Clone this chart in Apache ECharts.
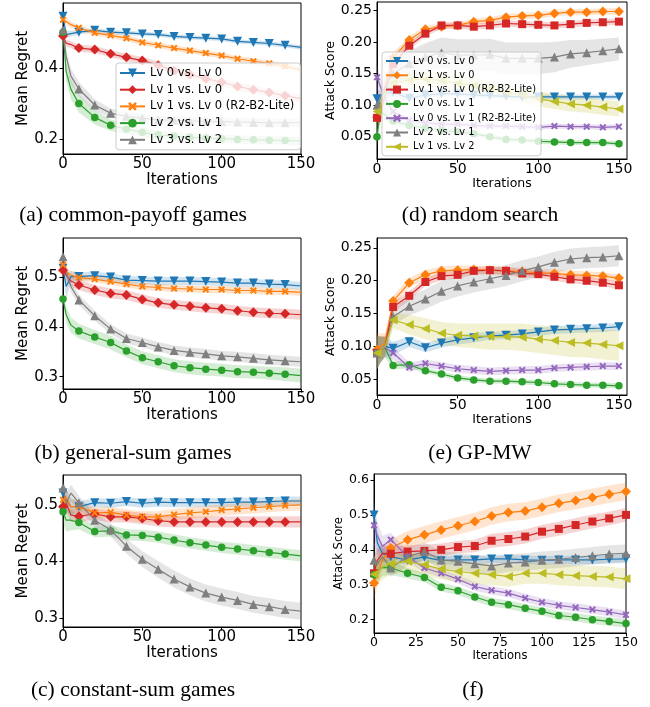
<!DOCTYPE html>
<html><head><meta charset="utf-8">
<script src="https://cdn.jsdelivr.net/npm/echarts@6/dist/echarts.min.js"></script>
<style>html,body{margin:0;padding:0;background:#fff}#c{width:650px;height:707px}</style>
</head><body><div id="c"></div><script>
// sample iterations
const X = [0,2,5,10,20,30,40,50,60,70,80,90,100,110,120,130,140,150];

// (a) common-payoff games
const aLv00  = [0.546,0.494,0.497,0.501,0.506,0.501,0.499,0.496,0.494,0.489,0.486,0.484,0.482,0.475,0.472,0.469,0.464,0.458];
const aLv10  = [0.490,0.470,0.466,0.456,0.452,0.440,0.430,0.421,0.408,0.392,0.381,0.370,0.360,0.348,0.339,0.331,0.322,0.314];
const aLv10L = [0.536,0.531,0.522,0.513,0.499,0.492,0.484,0.472,0.464,0.456,0.449,0.442,0.435,0.426,0.419,0.413,0.405,0.395];
const aLv21  = [0.501,0.390,0.340,0.300,0.261,0.239,0.228,0.219,0.212,0.208,0.205,0.203,0.201,0.199,0.198,0.197,0.196,0.194];
const aLv32  = [0.508,0.433,0.377,0.341,0.296,0.273,0.264,0.259,0.254,0.253,0.251,0.250,0.249,0.248,0.247,0.246,0.246,0.246];
const aE00  = [0.012,0.010,0.008,0.006,0.006,0.006,0.006,0.006,0.006,0.006,0.006,0.006,0.006,0.006,0.006,0.006,0.006,0.006];
const aE10  = [0.012,0.010,0.010,0.010,0.010,0.010,0.010,0.010,0.010,0.011,0.011,0.011,0.011,0.011,0.011,0.011,0.011,0.011];
const aE10L = [0.010,0.010,0.009,0.008,0.008,0.008,0.008,0.008,0.008,0.008,0.008,0.008,0.008,0.008,0.008,0.008,0.008,0.008];
const aE21  = [0.010,0.025,0.028,0.025,0.020,0.016,0.014,0.013,0.012,0.012,0.012,0.012,0.012,0.012,0.012,0.012,0.012,0.012];
const aE32  = [0.010,0.020,0.022,0.020,0.016,0.013,0.012,0.012,0.012,0.012,0.012,0.012,0.012,0.012,0.012,0.012,0.012,0.012];

// (b) general-sum games
const bLv00  = [0.519,0.482,0.502,0.502,0.504,0.501,0.495,0.494,0.493,0.493,0.493,0.492,0.491,0.489,0.489,0.487,0.486,0.483];
const bLv10  = [0.515,0.505,0.493,0.485,0.475,0.468,0.465,0.456,0.449,0.445,0.442,0.439,0.437,0.433,0.430,0.428,0.427,0.425];
const bLv10L = [0.526,0.512,0.505,0.500,0.497,0.492,0.487,0.482,0.480,0.478,0.477,0.476,0.476,0.474,0.474,0.472,0.472,0.470];
const bLv21  = [0.457,0.425,0.404,0.392,0.380,0.369,0.352,0.338,0.330,0.322,0.318,0.315,0.313,0.310,0.309,0.307,0.305,0.302];
const bLv32  = [0.542,0.512,0.482,0.455,0.423,0.396,0.377,0.369,0.360,0.353,0.349,0.346,0.342,0.340,0.337,0.334,0.332,0.330];
const bE00  = [0.015,0.025,0.012,0.009,0.008,0.008,0.008,0.008,0.008,0.008,0.008,0.008,0.008,0.008,0.008,0.008,0.008,0.008];
const bE10  = [0.012,0.012,0.011,0.010,0.010,0.010,0.010,0.010,0.010,0.010,0.010,0.010,0.010,0.010,0.010,0.010,0.010,0.010];
const bE10L = [0.010,0.010,0.008,0.007,0.007,0.007,0.007,0.007,0.007,0.007,0.007,0.007,0.007,0.007,0.007,0.007,0.007,0.007];
const bE21  = [0.010,0.016,0.016,0.015,0.014,0.014,0.013,0.013,0.013,0.013,0.013,0.013,0.013,0.013,0.013,0.013,0.014,0.014];
const bE32  = [0.012,0.012,0.012,0.011,0.010,0.010,0.010,0.010,0.010,0.010,0.010,0.010,0.010,0.010,0.010,0.010,0.010,0.010];

// (c) constant-sum games
const cLv00  = [0.521,0.509,0.497,0.497,0.504,0.503,0.506,0.503,0.505,0.504,0.504,0.504,0.504,0.505,0.505,0.506,0.507,0.507];
const cLv10  = [0.497,0.503,0.482,0.480,0.484,0.479,0.479,0.476,0.472,0.470,0.470,0.470,0.470,0.470,0.470,0.470,0.470,0.470];
const cLv10L = [0.509,0.512,0.497,0.497,0.486,0.487,0.482,0.479,0.479,0.483,0.486,0.488,0.491,0.493,0.495,0.497,0.499,0.500];
const cLv21  = [0.488,0.473,0.473,0.469,0.453,0.454,0.447,0.446,0.443,0.438,0.433,0.429,0.425,0.422,0.419,0.416,0.413,0.410];
const cLv32  = [0.530,0.503,0.521,0.504,0.473,0.456,0.427,0.404,0.386,0.369,0.355,0.344,0.337,0.331,0.324,0.320,0.315,0.312];
const cE00  = [0.020,0.020,0.015,0.010,0.008,0.008,0.008,0.008,0.008,0.008,0.008,0.008,0.008,0.008,0.008,0.008,0.008,0.008];
const cE10  = [0.015,0.015,0.012,0.010,0.010,0.010,0.010,0.010,0.010,0.010,0.010,0.010,0.010,0.010,0.010,0.010,0.010,0.010];
const cE10L = [0.015,0.015,0.012,0.010,0.010,0.010,0.010,0.010,0.010,0.010,0.010,0.010,0.010,0.010,0.010,0.010,0.010,0.010];
const cE21  = [0.020,0.020,0.018,0.012,0.010,0.010,0.010,0.010,0.010,0.010,0.010,0.010,0.010,0.010,0.010,0.010,0.010,0.010];
const cE32  = [0.020,0.018,0.015,0.012,0.012,0.012,0.013,0.014,0.015,0.015,0.015,0.015,0.015,0.015,0.015,0.015,0.015,0.015];

// (d) random search
const dLv00  = [0.110,0.100,0.120,0.120,0.111,0.116,0.118,0.118,0.116,0.115,0.114,0.113,0.113,0.113,0.113,0.113,0.113,0.113];
const dLv10  = [0.081,0.090,0.130,0.175,0.203,0.220,0.224,0.226,0.232,0.234,0.239,0.241,0.242,0.245,0.247,0.247,0.248,0.248];
const dLv10L = [0.080,0.085,0.120,0.165,0.194,0.213,0.226,0.226,0.224,0.226,0.229,0.228,0.227,0.226,0.228,0.230,0.231,0.232];
const dLv01  = [0.050,0.090,0.085,0.075,0.068,0.064,0.060,0.058,0.055,0.050,0.046,0.045,0.043,0.042,0.041,0.041,0.041,0.039];
const dLv01L = [0.144,0.130,0.110,0.090,0.076,0.072,0.070,0.070,0.068,0.067,0.067,0.066,0.065,0.067,0.066,0.066,0.065,0.066];
const dLv21  = [0.100,0.110,0.130,0.150,0.166,0.176,0.183,0.179,0.179,0.180,0.174,0.174,0.174,0.176,0.181,0.183,0.186,0.189];
const dLv12  = [0.090,0.100,0.120,0.135,0.140,0.141,0.139,0.135,0.131,0.126,0.121,0.116,0.110,0.106,0.102,0.100,0.097,0.094];
const dE00  = [0.020,0.015,0.010,0.006,0.005,0.004,0.004,0.004,0.004,0.004,0.004,0.004,0.004,0.004,0.004,0.004,0.004,0.004];
const dE10  = [0.015,0.015,0.012,0.008,0.006,0.005,0.005,0.005,0.005,0.005,0.005,0.005,0.005,0.005,0.005,0.005,0.005,0.005];
const dE10L = [0.015,0.015,0.012,0.008,0.006,0.005,0.005,0.005,0.005,0.005,0.005,0.005,0.005,0.005,0.005,0.005,0.005,0.005];
const dE01  = [0.020,0.015,0.010,0.006,0.005,0.004,0.004,0.004,0.004,0.004,0.004,0.004,0.004,0.004,0.004,0.004,0.004,0.004];
const dE01L = [0.020,0.015,0.010,0.006,0.005,0.004,0.004,0.004,0.004,0.004,0.004,0.004,0.004,0.004,0.004,0.004,0.004,0.004];
const dE21  = [0.015,0.015,0.018,0.020,0.020,0.022,0.024,0.025,0.025,0.025,0.025,0.025,0.025,0.024,0.022,0.020,0.019,0.018];
const dE12  = [0.015,0.015,0.012,0.012,0.012,0.012,0.012,0.012,0.012,0.012,0.012,0.012,0.012,0.012,0.012,0.012,0.012,0.012];

// (e) GP-MW
const eLv00  = [0.090,0.095,0.100,0.097,0.107,0.098,0.105,0.110,0.113,0.116,0.117,0.119,0.122,0.125,0.126,0.127,0.128,0.130];
const eLv10  = [0.095,0.100,0.105,0.169,0.197,0.209,0.215,0.216,0.217,0.216,0.215,0.214,0.212,0.211,0.209,0.208,0.207,0.204];
const eLv10L = [0.090,0.095,0.100,0.160,0.177,0.198,0.207,0.209,0.215,0.216,0.215,0.211,0.210,0.206,0.202,0.200,0.197,0.193];
const eLv01  = [0.090,0.095,0.098,0.071,0.072,0.063,0.058,0.052,0.049,0.047,0.047,0.046,0.045,0.043,0.042,0.041,0.041,0.040];
const eLv01L = [0.090,0.095,0.098,0.090,0.068,0.074,0.070,0.066,0.064,0.062,0.063,0.064,0.064,0.067,0.068,0.069,0.070,0.070];
const eLv21  = [0.090,0.095,0.100,0.145,0.161,0.172,0.184,0.192,0.198,0.203,0.208,0.215,0.221,0.228,0.233,0.235,0.236,0.238];
const eLv12  = [0.090,0.095,0.100,0.140,0.133,0.127,0.120,0.117,0.116,0.115,0.115,0.114,0.111,0.109,0.106,0.105,0.103,0.101];
const eE00  = [0.025,0.020,0.015,0.010,0.008,0.007,0.007,0.007,0.007,0.006,0.006,0.006,0.006,0.006,0.006,0.006,0.006,0.006];
const eE10  = [0.025,0.020,0.015,0.008,0.007,0.007,0.007,0.007,0.006,0.006,0.006,0.006,0.006,0.006,0.006,0.006,0.006,0.006];
const eE10L = [0.025,0.020,0.015,0.008,0.007,0.006,0.006,0.006,0.006,0.006,0.006,0.006,0.006,0.006,0.006,0.006,0.006,0.006];
const eE01  = [0.025,0.020,0.015,0.006,0.005,0.004,0.004,0.004,0.004,0.004,0.004,0.004,0.004,0.004,0.004,0.004,0.004,0.004];
const eE01L = [0.025,0.020,0.015,0.010,0.007,0.006,0.006,0.006,0.006,0.006,0.006,0.006,0.006,0.006,0.006,0.006,0.006,0.006];
const eE21  = [0.025,0.020,0.015,0.012,0.014,0.015,0.016,0.016,0.016,0.016,0.016,0.016,0.016,0.016,0.016,0.016,0.016,0.016];
const eE12  = [0.025,0.020,0.015,0.012,0.015,0.016,0.017,0.018,0.019,0.020,0.020,0.021,0.021,0.022,0.022,0.022,0.023,0.023];

// (f)
const fLv00  = [0.500,0.420,0.390,0.380,0.371,0.379,0.369,0.371,0.371,0.374,0.374,0.371,0.370,0.371,0.371,0.371,0.373,0.374];
const fLv10  = [0.305,0.330,0.370,0.405,0.429,0.443,0.457,0.469,0.481,0.497,0.507,0.511,0.522,0.533,0.541,0.550,0.559,0.567];
const fLv10L = [0.333,0.370,0.390,0.389,0.395,0.397,0.400,0.408,0.411,0.426,0.431,0.438,0.452,0.460,0.471,0.481,0.490,0.500];
const fLv01  = [0.329,0.340,0.350,0.348,0.333,0.321,0.293,0.283,0.265,0.250,0.243,0.233,0.224,0.212,0.207,0.200,0.195,0.189];
const fLv01L = [0.470,0.440,0.410,0.429,0.381,0.348,0.333,0.316,0.295,0.284,0.276,0.262,0.250,0.241,0.235,0.229,0.222,0.214];
const fLv21  = [0.370,0.360,0.380,0.348,0.381,0.395,0.371,0.367,0.360,0.354,0.362,0.365,0.370,0.373,0.378,0.383,0.388,0.390];
const fLv12  = [0.330,0.340,0.350,0.360,0.367,0.357,0.345,0.338,0.333,0.329,0.324,0.333,0.333,0.329,0.326,0.324,0.322,0.317];
const fE00  = [0.050,0.035,0.025,0.018,0.012,0.012,0.012,0.012,0.012,0.012,0.012,0.012,0.012,0.012,0.012,0.012,0.012,0.012];
const fE10  = [0.050,0.035,0.030,0.025,0.025,0.025,0.025,0.025,0.025,0.025,0.025,0.025,0.025,0.025,0.025,0.025,0.025,0.025];
const fE10L = [0.050,0.035,0.025,0.020,0.018,0.018,0.018,0.018,0.018,0.020,0.020,0.020,0.020,0.020,0.020,0.020,0.020,0.020];
const fE01  = [0.040,0.030,0.025,0.020,0.015,0.013,0.012,0.012,0.012,0.012,0.012,0.012,0.012,0.012,0.012,0.012,0.012,0.012];
const fE01L = [0.060,0.040,0.030,0.020,0.015,0.013,0.012,0.012,0.012,0.012,0.012,0.012,0.012,0.012,0.012,0.012,0.012,0.012];
const fE21  = [0.050,0.040,0.030,0.025,0.025,0.025,0.025,0.025,0.025,0.025,0.025,0.025,0.025,0.025,0.025,0.025,0.025,0.025];
const fE12  = [0.050,0.040,0.035,0.030,0.030,0.030,0.030,0.030,0.030,0.030,0.030,0.030,0.030,0.030,0.030,0.030,0.030,0.030];

// tick labels
const xTicks150 = [0,50,100,150];
const xTicksF = [0,25,50,75,100,125,150];
const yTicksA = [0.2,0.4];
const yTicksBC = [0.3,0.4,0.5];
const yTicksDE = [0.05,0.10,0.15,0.20,0.25];
const yTicksF = [0.2,0.3,0.4,0.5,0.6];

// legend labels
const leftNames = ['Lv 0 vs. Lv 0','Lv 1 vs. Lv 0','Lv 1 vs. Lv 0 (R2-B2-Lite)','Lv 2 vs. Lv 1','Lv 3 vs. Lv 2'];
const rightNames = ['Lv 0 vs. Lv 0','Lv 1 vs. Lv 0','Lv 1 vs. Lv 0 (R2-B2-Lite)','Lv 0 vs. Lv 1','Lv 0 vs. Lv 1 (R2-B2-Lite)','Lv 2 vs. Lv 1','Lv 1 vs. Lv 2'];
const captions = ['(a) common-payoff games','(b) general-sum games','(c) constant-sum games','(d) random search','(e) GP-MW','(f)'];

const ZW = '\u200B';
const FONT = "'DejaVu Sans', sans-serif";
const COL = {blue:'#1f77b4', orange:'#ff7f0e', green:'#2ca02c', red:'#d62728', purple:'#9467bd', gray:'#7f7f7f', olive:'#bcbd22'};
const XPATH = 'path://M2,0L5,3L8,0L10,2L7,5L10,8L8,10L5,7L2,10L0,8L3,5L0,2Z';
const MK = {
  down:{symbol:'triangle', rotate:180, size:9},
  up:{symbol:'triangle', rotate:0, size:9},
  left:{symbol:'triangle', rotate:90, size:9},
  diamond:{symbol:'diamond', rotate:0, size:10},
  circle:{symbol:'circle', rotate:0, size:7.5},
  square:{symbol:'rect', rotate:0, size:8},
  x:{symbol:XPATH, rotate:0, size:7}
};
function rgba(hex, a){const n=parseInt(hex.slice(1),16);return 'rgba('+(n>>16)+','+((n>>8)&255)+','+(n&255)+','+a+')';}

const leftDefs = (v00,v10,v10L,v21,v32,e00,e10,e10L,e21,e32) => [
  [leftNames[0], v00, e00, COL.blue, 'down'],
  [leftNames[1], v10, e10, COL.red, 'diamond'],
  [leftNames[2], v10L, e10L, COL.orange, 'x'],
  [leftNames[3], v21, e21, COL.green, 'circle'],
  [leftNames[4], v32, e32, COL.gray, 'up']
];
const rightDefs = (v00,v10,v10L,v01,v01L,v21,v12,e00,e10,e10L,e01,e01L,e21,e12) => [
  [rightNames[0]+ZW, v00, e00, COL.blue, 'down'],
  [rightNames[1]+ZW, v10, e10, COL.orange, 'diamond'],
  [rightNames[2]+ZW, v10L, e10L, COL.red, 'square'],
  [rightNames[3]+ZW, v01, e01, COL.green, 'circle'],
  [rightNames[4]+ZW, v01L, e01L, COL.purple, 'x'],
  [rightNames[5]+ZW, v21, e21, COL.gray, 'up'],
  [rightNames[6]+ZW, v12, e12, COL.olive, 'left']
];

const panels = [
  {grid:{left:63,top:3,width:238,height:151}, xMax:150, yMin:0.158, yMax:0.583, xTicks:xTicks150, yTicks:yTicksA, dec:1,
   tf:15, nf:15, yName:'Mean Regret', yGap:30, xGap:17, last:140,
   defs:leftDefs(aLv00,aLv10,aLv10L,aLv21,aLv32,aE00,aE10,aE10L,aE21,aE32)},
  {grid:{left:63,top:238,width:238,height:151}, xMax:150, yMin:0.275, yMax:0.580, xTicks:xTicks150, yTicks:yTicksBC, dec:1,
   tf:15, nf:15, yName:'Mean Regret', yGap:30, xGap:19, last:140,
   defs:leftDefs(bLv00,bLv10,bLv10L,bLv21,bLv32,bE00,bE10,bE10L,bE21,bE32)},
  {grid:{left:63,top:475,width:238,height:152}, xMax:150, yMin:0.284, yMax:0.553, xTicks:xTicks150, yTicks:yTicksBC, dec:1,
   tf:15, nf:15, yName:'Mean Regret', yGap:30, xGap:17, last:140,
   defs:leftDefs(cLv00,cLv10,cLv10L,cLv21,cLv32,cE00,cE10,cE10L,cE21,cE32)},
  {grid:{left:377,top:2,width:250,height:157}, xMax:155, yMin:0.015, yMax:0.263, xTicks:xTicks150, yTicks:yTicksDE, dec:2,
   tf:14, nf:12.5, yName:'Attack Score', yGap:34, xGap:16, last:150,
   defs:rightDefs(dLv00,dLv10,dLv10L,dLv01,dLv01L,dLv21,dLv12,dE00,dE10,dE10L,dE01,dE01L,dE21,dE12)},
  {grid:{left:377,top:238,width:250,height:157}, xMax:155, yMin:0.026, yMax:0.265, xTicks:xTicks150, yTicks:yTicksDE, dec:2,
   tf:14, nf:12.5, yName:'Attack Score', yGap:34, xGap:15, last:150,
   defs:rightDefs(eLv00,eLv10,eLv10L,eLv01,eLv01L,eLv21,eLv12,eE00,eE10,eE10L,eE01,eE01L,eE21,eE12)},
  {grid:{left:374,top:474,width:252,height:159}, xMax:150, yMin:0.162, yMax:0.617, xTicks:xTicksF, yTicks:yTicksF, dec:1,
   tf:12.5, nf:11.5, yName:'Attack Score', yGap:25, xGap:13, last:150,
   defs:rightDefs(fLv00,fLv10,fLv10L,fLv01,fLv01L,fLv21,fLv12,fE00,fE10,fE10L,fE01,fE01L,fE21,fE12)}
];

const grids=[], xAxes=[], yAxes=[], series=[];
panels.forEach((p,k)=>{
  grids.push(Object.assign({show:true, borderColor:'#000', borderWidth:1, backgroundColor:'transparent'}, p.grid));
  const common = {gridIndex:k, type:'value', splitLine:{show:false},
    axisLine:{show:true, onZero:false, lineStyle:{color:'#000', width:1}},
    nameLocation:'middle', nameTextStyle:{fontFamily:FONT, fontSize:p.nf, color:'#000'}};
  xAxes.push(Object.assign({}, common, {min:0, max:p.xMax, name:'Iterations', nameGap:p.xGap,
    axisTick:{show:true, length:3.5, customValues:p.xTicks, lineStyle:{color:'#000'}},
    axisLabel:{customValues:p.xTicks, fontFamily:FONT, fontSize:p.tf, color:'#000', margin:3}}));
  yAxes.push(Object.assign({}, common, {min:p.yMin, max:p.yMax, name:p.yName, nameGap:p.yGap,
    axisTick:{show:true, length:3.5, customValues:p.yTicks, lineStyle:{color:'#000'}},
    axisLabel:{customValues:p.yTicks, fontFamily:FONT, fontSize:p.tf, color:'#000', margin:5,
      formatter:v=>Number(v).toFixed(p.dec)}}));
  // bands first
  p.defs.forEach(([name, vals, errs, color])=>{
    series.push({type:'custom', xAxisIndex:k, yAxisIndex:k, silent:true, z:1, clip:true,
      data: X.map((x,i)=>[x, vals[i]-errs[i], vals[i]+errs[i]]),
      encode:{x:0, y:[1,2]},
      renderItem:(params, api)=>{
        if(params.dataIndex!==0) return null;
        const up = X.map((x,i)=>api.coord([x, vals[i]+errs[i]]));
        const lo = X.map((x,i)=>api.coord([x, vals[i]-errs[i]])).reverse();
        return {type:'polygon', shape:{points:up.concat(lo)}, style:{fill:rgba(color,0.2)}};
      }});
  });
  p.defs.forEach(([name, vals, errs, color, mkKey])=>{
    const mk = MK[mkKey];
    series.push({type:'line', name, xAxisIndex:k, yAxisIndex:k, z:2,
      symbol:mk.symbol, symbolSize:mk.size, symbolRotate:mk.rotate, showSymbol:true, showAllSymbol:true,
      lineStyle:{color, width:1.2}, itemStyle:{color},
      emphasis:{disabled:true},
      data: X.map((x,i)=>({value:[x, vals[i]], symbol:(x%10===0 && x<=p.last)?mk.symbol:'none'}))});
  });
});

const legendBase = {orient:'vertical', selectedMode:false, backgroundColor:'rgba(255,255,255,0.8)',
  borderColor:'#cccccc', borderWidth:1, borderRadius:3, formatter:n=>n.replace(/\u200B/g,'')};
const legends = [
  Object.assign({}, legendBase, {data:leftNames, left:116, top:63, padding:[4,6,4,3], itemWidth:25, itemHeight:11, itemGap:4.7,
    textStyle:{fontFamily:FONT, fontSize:11.5, color:'#000'}}),
  Object.assign({}, legendBase, {data:rightNames.map(n=>n+ZW), left:382, top:52, padding:[4,5,4,3], itemWidth:22, itemHeight:10, itemGap:4.3,
    textStyle:{fontFamily:FONT, fontSize:9.8, color:'#000'}})
];

const capPos = [[133,215],[133,453],[133,690],[480,215],[480,453],[473,690]];
const graphics = captions.map((t,i)=>({type:'text', x:capPos[i][0], y:capPos[i][1], silent:true,
  style:{text:t, font:"21.5px 'Liberation Serif', serif", fill:'#000', align:'center', verticalAlign:'middle', textAlign:'center', textVerticalAlign:'middle'}}));

const chart = echarts.init(document.getElementById('c'));
chart.setOption({animation:false, backgroundColor:'#fff', grid:grids, xAxis:xAxes, yAxis:yAxes, series, legend:legends, graphic:graphics});
</script></body></html>
